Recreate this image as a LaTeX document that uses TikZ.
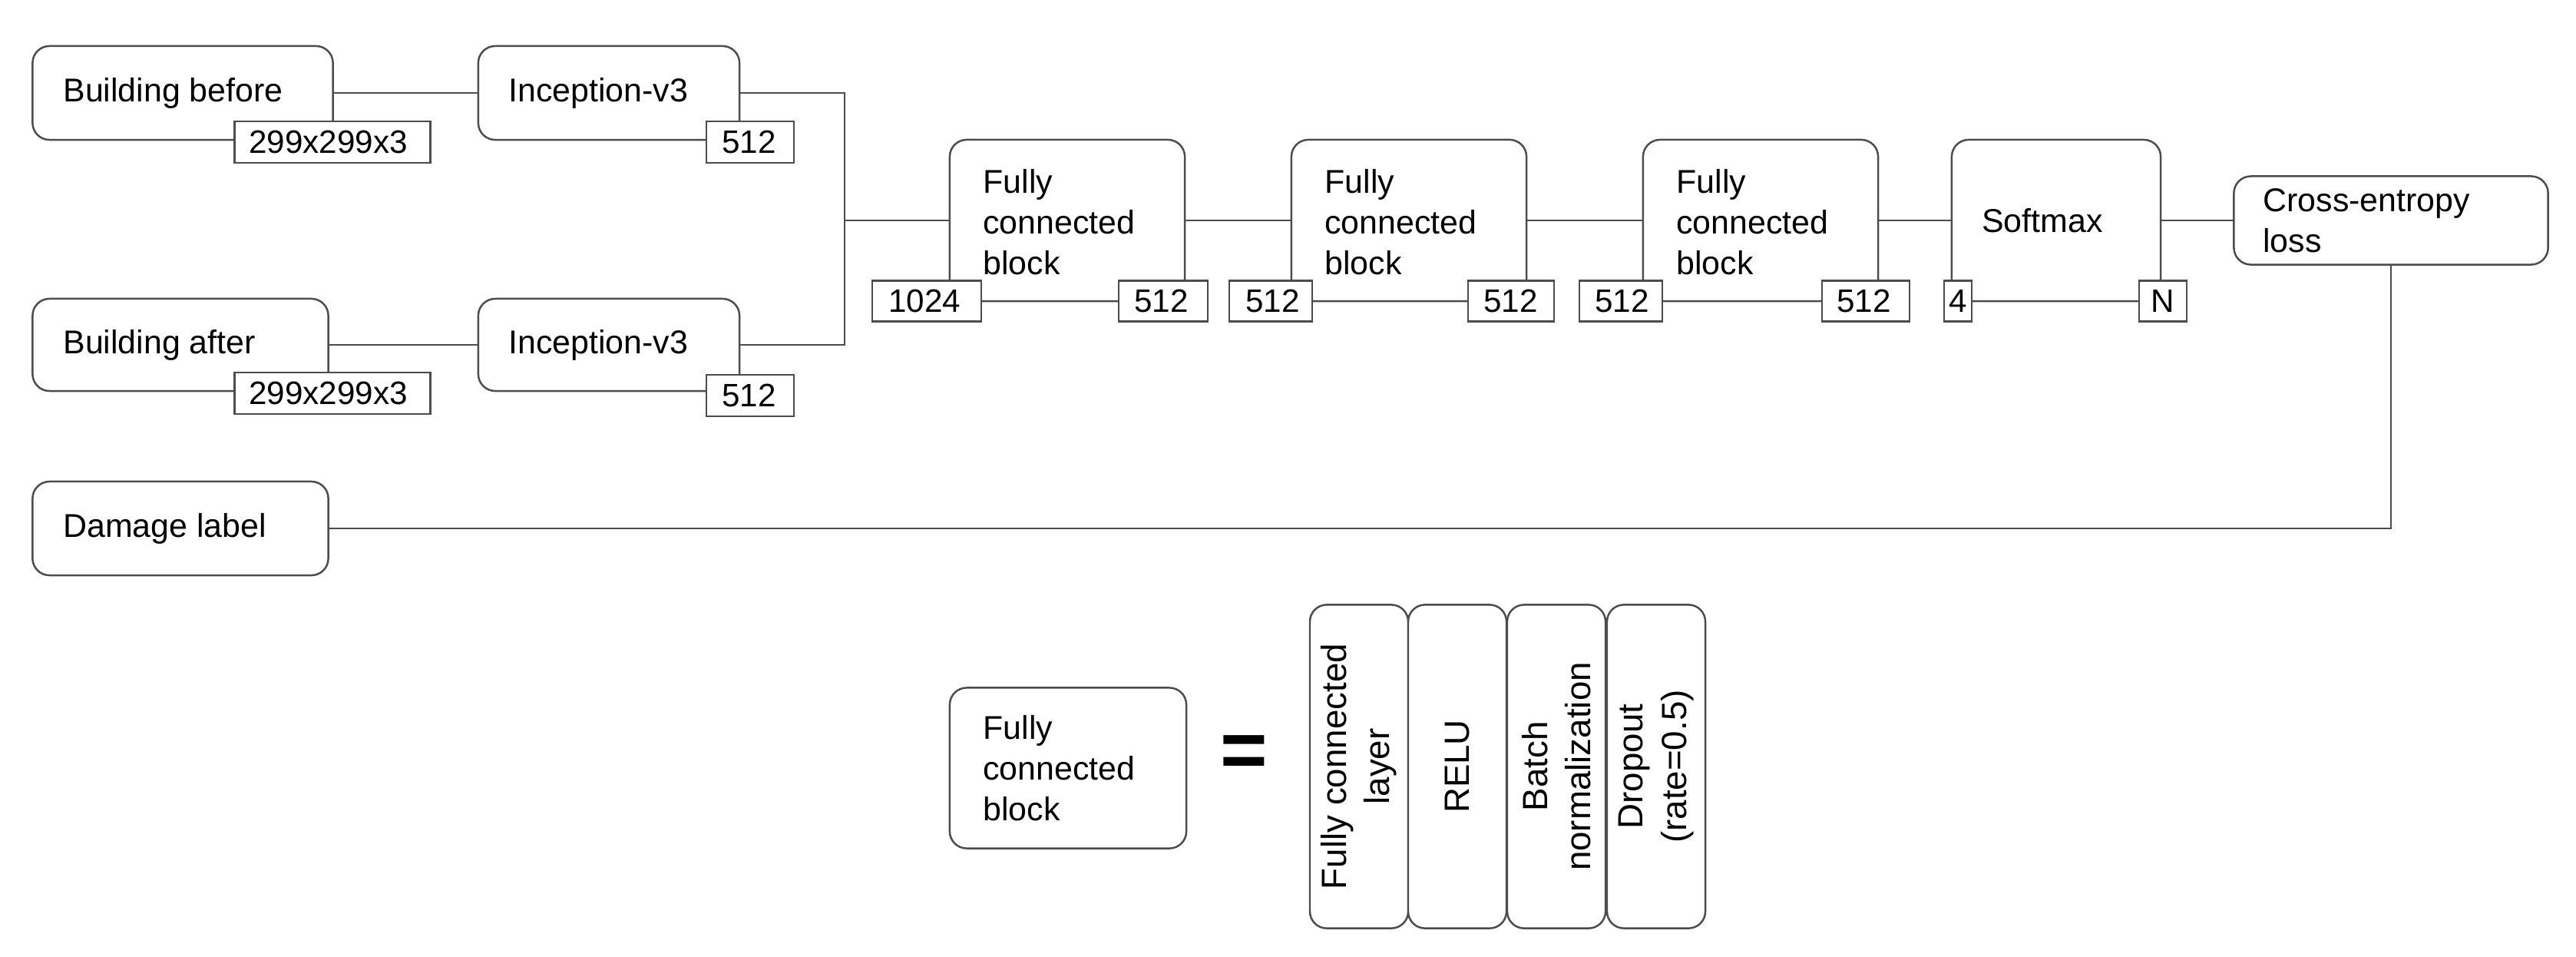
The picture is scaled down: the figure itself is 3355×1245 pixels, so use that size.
\documentclass[tikz,border=0pt]{standalone}
\usepackage{fontspec}
\setmainfont{Liberation Sans}
\begin{document}
\begin{tikzpicture}[x=0.01cm,y=-0.01cm,
  conn/.style={draw=black!70, line width=0.7pt},
  txt/.style={font=\fontsize{12.2}{15}\selectfont},
  box/.style={draw=black!70, line width=0.7pt, rounded corners=0.22cm, fill=white,
    inner sep=0pt},
  lbl/.style={draw=black!70, line width=0.7pt, fill=white, inner sep=0pt},
  ltxt/.style={font=\fontsize{12}{14}\selectfont},
  fc/.style={box, minimum width=3.06cm, minimum height=2.1cm},
  vbox/.style={box, rotate=90, minimum width=4.21cm, minimum height=1.28cm, align=center,
    font=\fontsize{13}{16}\selectfont}]
\useasboundingbox (0,0) rectangle (3355,1245);

% inputs
\node[box, minimum width=3.91cm, minimum height=1.22cm] (bb) at (238,121) {};
\node[txt, anchor=west] at (70,121) {Building before};
\node[box, minimum width=3.85cm, minimum height=1.2cm] (ba) at (235,449) {};
\node[txt, anchor=west] at (70,449) {Building after};
\node[box, minimum width=3.85cm, minimum height=1.22cm] (dl) at (235,688) {};
\node[txt, anchor=west] at (70,688) {Damage label};

% inception
\node[box, minimum width=3.4cm, minimum height=1.22cm] (i1) at (793,121) {};
\node[txt, anchor=west] at (650,121) {Inception-v3};
\node[box, minimum width=3.4cm, minimum height=1.2cm] (i2) at (793,449) {};
\node[txt, anchor=west] at (650,449) {Inception-v3};

% fully connected blocks
\node[fc] (f1) at (1390,287) {};
\node[fc] (f2) at (1835,287) {};
\node[fc] (f3) at (2293,287) {};
\node[box, minimum width=2.72cm, minimum height=2.1cm] (sm) at (2678,287) {};
\foreach \x in {1268,1713,2171}
  \node[txt, anchor=north west, align=left] at (\x,208) {Fully\\connected\\block};
\node[txt] at (2660,287) {Softmax};
\node[box, minimum width=4.09cm, minimum height=1.15cm] (ce) at (3114,287) {};
\node[txt, anchor=west, align=left] at (2935,287) {Cross-entropy\\loss};

% connectors
\coordinate (j) at (1100,287);
\draw[conn] (bb.east) -- (i1.west);
\draw[conn] (ba.east) -- (i2.west);
\draw[conn] (i1.east) -| (j) -- (f1.west);
\draw[conn] (i2.east) -| (j);
\draw[conn] (f1.east) -- (f2.west);
\draw[conn] (f2.east) -- (f3.west);
\draw[conn] (f3.east) -- (sm.west);
\draw[conn] (sm.east) -- (ce.west);
\draw[conn] (ce.south) |- (dl.east);

% size labels
\node[lbl, minimum width=2.55cm, minimum height=0.54cm] (s1) at (433,185) {};
\node[ltxt, anchor=west] at (312,185) {299x299x3};
\node[lbl, minimum width=2.55cm, minimum height=0.54cm] (s2) at (433,512) {};
\node[ltxt, anchor=west] at (312,512) {299x299x3};
\node[lbl, minimum width=1.14cm, minimum height=0.54cm] (o1) at (977,185) {};
\node[ltxt, anchor=west] at (928,185) {512};
\node[lbl, minimum width=1.14cm, minimum height=0.54cm] (o2) at (977,515) {};
\node[ltxt, anchor=west] at (928,515) {512};

\node[lbl, minimum width=1.42cm, minimum height=0.53cm] (a1) at (1207,392) {};
\node[ltxt, anchor=west] at (1145,392) {1024};
\node[lbl, minimum width=1.16cm, minimum height=0.53cm] (b1) at (1515,392) {};
\node[ltxt, anchor=west] at (1465,392) {512};
\node[lbl, minimum width=1.08cm, minimum height=0.53cm] (a2) at (1655,392) {};
\node[ltxt, anchor=west] at (1610,392) {512};
\node[lbl, minimum width=1.12cm, minimum height=0.53cm] (b2) at (1968,392) {};
\node[ltxt, anchor=west] at (1920,392) {512};
\node[lbl, minimum width=1.08cm, minimum height=0.53cm] (a3) at (2111,392) {};
\node[ltxt, anchor=west] at (2065,392) {512};
\node[lbl, minimum width=1.14cm, minimum height=0.53cm] (b3) at (2430,392) {};
\node[ltxt, anchor=west] at (2380,392) {512};
\node[lbl, minimum width=0.36cm, minimum height=0.53cm] (a4) at (2550,392) {};
\node[ltxt] at (2550,392) {4};
\node[lbl, minimum width=0.62cm, minimum height=0.53cm] (b4) at (2817,392) {};
\node[ltxt] at (2817,392) {N};
\draw[conn] (a1) -- (b1);
\draw[conn] (a2) -- (b2);
\draw[conn] (a3) -- (b3);
\draw[conn] (a4) -- (b4);

% legend
\node[box, minimum width=3.08cm, minimum height=2.09cm] (lg) at (1391,1000) {};
\node[txt, anchor=west, align=left] at (1268,1000) {Fully\\connected\\block};
\node[font=\fontsize{30}{30}\selectfont\bfseries] (eq) at (1620,985) {=};
\node[vbox] (v1) at (1770,998) {Fully connected\\layer};
\node[vbox] (v2) at (1898,998) {RELU};
\node[vbox] (v3) at (2027,998) {Batch\\normalization};
\node[vbox] (v4) at (2157,998) {Dropout\\(rate=0.5)};
\end{tikzpicture}
\end{document}
